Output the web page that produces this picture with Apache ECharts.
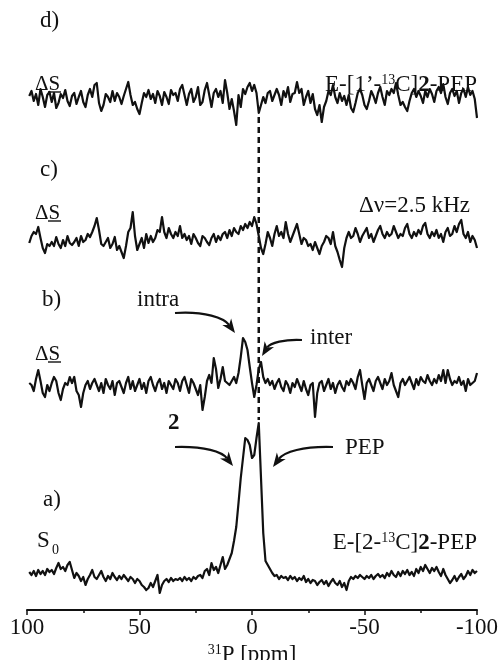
<!DOCTYPE html>
<html>
<head>
<meta charset="utf-8">
<script src="https://cdn.jsdelivr.net/npm/echarts@6/dist/echarts.min.js"></script>
<style>html,body{margin:0;padding:0;background:#fff}#main{width:499px;height:660px}</style>
</head>
<body>
<div id="main"></div>
<script>
// spectra sampled every 1 ppm from 99 down to -100 (intensity, arbitrary units)
var ppmStart = 99, ppmStep = -1;

// d) E-[1'-13C]2-PEP, ΔS
var traceD = [
  3, 8, -2, 5, -6, 10, 2, -8, 4, 7,
  -3, 6, -9, -4, 5, 1, 9, -2, -7, 3,
  6, -5, 2, 8, -3, -8, 4, 10, 2, 14,
  16, -4, -12, -6, 5, 2, -3, 8, -2, 6,
  2, -5, 3, 10, 17, 4, -6, -3, -10, -15,
  -4, 6, 2, 9, 0, 5, -4, 8, 3, -6,
  7, 2, -5, 9, 4, 6, -2, 10, 14, 4,
  -6, 5, 10, -3, 2, 12, -6, -3, 9, 16,
  4, -8, 6, 10, 2, 8, -4, 19, 6, -10,
  0, -12, -26, 4, -8, 10, 5, 12, 16, 8,
  14, 6, -14, -6, 2, -4, 6, 8, -2, 4,
  10, 4, -6, 8, 2, 12, -3, 5, 6, 17,
  6, 10, -6, 2, 8, -4, 5, -10, -16, -6,
  -23, -8, -2, 8, 4, 14, 2, -4, 6, -2,
  3, -6, 4, -9, -13, -4, 6, 10, 4, -6,
  -10, -2, 8, 3, -4, 6, 12, 2, -6, 8,
  4, 10, 6, 16, 4, -6, -3, -8, -12, -2,
  6, 10, 2, 8, 3, -4, 8, 2, 10, 5,
  -3, 8, 12, 6, 15, 2, -5, 6, 10, 3,
  8, -4, 6, 10, 2, 12, 4, 8, 0, -19
];

// c) Δν = 2.5 kHz, ΔS
var traceC = [
  -3, 4, 8, 6, 13, 2, -8, -13, -4, -6,
  -2, -6, 3, -4, -8, 0, -6, 4, -3, -5,
  -2, 2, -6, 4, -2, 0, 6, 3, 8, 14,
  22, 10, -4, -6, -2, 2, -8, -4, 3, -10,
  -6, -12, -18, -6, 8, 12, 28, 4, -10, -4,
  2, -8, 6, -3, 4, -2, 2, 10, 8, 23,
  8, 2, 12, 6, 2, 8, 4, 14, 2, 6,
  0, 4, -4, 6, 2, -3, -6, 4, 2, -2,
  -5, 2, 6, -2, 4, 0, 6, 8, 2, 10,
  4, 12, 8, 6, 14, 10, 16, 12, 18, 14,
  23, 16, 4, -8, -14, -4, 8, 2, -6, 6,
  14, 4, 8, 2, 18, 6, -2, 4, 10, 16,
  6, -4, 2, 0, -6, -4, -10, -2, -8, -14,
  -6, -2, 4, 2, -4, 8, -6, -12, -20, -27,
  -8, 2, 8, 2, 4, 12, 6, -2, 4, 8,
  12, 2, 6, -2, 4, 10, 14, 6, 2, 8,
  4, 6, 14, 8, 2, 6, 4, 12, 16, 6,
  2, 8, 4, 10, 6, 14, 17, 6, 2, 8,
  4, 10, 2, 6, -2, 8, 12, 4, 6, 14,
  8, 16, 20, 6, 2, 8, -2, 4, 0, -8
];

// b) ΔS with intra / inter peaks
var traceB = [
  4, 2, -4, 8, 17, 6, -6, -10, 2, -4,
  4, 10, 6, -6, -13, -2, 4, 2, 10, 4,
  10, -4, -8, -20, -6, 2, 6, -2, 4, 8,
  2, -4, 4, -6, 8, 2, -2, 6, -8, 4,
  6, 0, -6, 4, 10, -2, 6, -4, 2, 8,
  -2, 4, -6, 6, 10, 2, -4, 4, 8, -2,
  4, -6, 6, 2, -2, 8, 4, -4, 6, 10,
  2, -6, 8, 4, -2, -8, 2, -23, -10, 6,
  12, 4, 29, 18, -1, 8, 20, 6, 4, 2,
  6, 10, 4, 14, 30, 49, 45, 37, 20, 4,
  -10, 2, 18, 25, 10, 4, 8, 2, 6, -2,
  4, 8, 0, -4, 6, 2, -6, 4, 0, 8,
  2, -4, 6, -2, -8, 2, 4, -30, -6, 4,
  6, -4, 2, 8, -2, 4, -6, 2, 6, 0,
  -4, 6, 2, 8, 4, -2, 10, 17, 2, -12,
  4, 8, 2, -4, 6, 10, 4, -2, 8, 2,
  6, 14, 2, -4, -10, 4, 8, 2, 6, 10,
  4, -2, 8, 2, 10, 6, 4, 12, 6, 2,
  8, 4, 12, 6, 17, 4, 17, 8, 2, 6,
  4, 10, 2, 6, -4, 8, 2, 4, 6, 14
];

// a) S0, E-[2-13C]2-PEP
var traceA = [
  1, -2, 2, -3, 3, -1, 2, -2, 4, 1,
  3, -1, 5, 10, 4, 6, 2, 8, 11, 3,
  -5, 0, -3, -8, -4, -12, -6, -2, 3, -4,
  -6, -2, 2, -4, -8, -3, -6, 0, -4, -7,
  -3, -6, -2, -5, -8, -4, -6, -10, -6, -8,
  -12, -14, -17, -15, -10, -14, -8, -2, -20, -12,
  -8, -6, -9, -5, -8, -6, -7, -5, -8, -4,
  -7, -5, -8, -4, -6, -3, -2, -5, 2, 4,
  -2, 10, 3, 6, 0, 8, 16, 4, 8, 14,
  20, 32, 46, 70, 95, 115, 135, 133, 128, 115,
  118, 135, 150, 95, 40, 12, 8, 4, 0, -3,
  -2, -6, -3, -5, -4, -7, -3, -6, -4, -8,
  -5, -7, -3, -9, -6, -10, -7, -8, -12, -9,
  -7, -11, -8, -13, -9, -6, -10, -12, -8, -14,
  -10, -17, -8, -4, -6, -3, -5, -2, -4, -6,
  -3, -5, -2, -6, -3, -1, -4, -2, -5, 0,
  -3, 2, -2, -4, 1, -3, 2, -1, 3, -2,
  1, -3, 4, 0, 6, 2, 8, 4, 0, 5,
  2, 6, 1, -3, 4, -2, -6, -10, -7, -3,
  -8, -4, -1, -6, -3, 2, -2, 3, 0, 2
];

var tickValues = [100, 50, 0, -50, -100];
var tickLabels = ['100', '50', '0', '-50', '-100'];
var markerPpm = -3;

var serif = 'Liberation Serif';
var ink = '#111';

function pairs(arr) {
  return arr.map(function (v, i) { return [ppmStart + i * ppmStep, v]; });
}

var myChart = echarts.init(document.getElementById('main'));

var grids = [
  { left: 27, width: 450, top: 39, height: 100 },
  { left: 27, width: 450, top: 180, height: 100 },
  { left: 27, width: 450, top: 327, height: 100 },
  { left: 27, width: 450, top: 410, height: 200 }
].map(function (g) { g.outerBoundsMode = 'none'; g.containLabel = false; return g; });

var xAxes = grids.map(function (g, i) {
  var last = i === 3;
  return {
    type: 'value', gridIndex: i, min: -100, max: 100, interval: 50, inverse: true,
    show: last,
    splitLine: { show: false },
    axisLine: { show: last, onZero: false, lineStyle: { color: ink, width: 2 } },
    axisTick: { show: last, length: 5, lineStyle: { color: ink, width: 1.5 } },
    minorTick: { show: last, splitNumber: 2, length: 3, lineStyle: { color: ink, width: 1.5 } },
    axisLabel: {
      show: last, margin: 6, color: ink, fontFamily: serif, fontSize: 23,
      formatter: function (v) { var k = tickValues.indexOf(v); return k < 0 ? '' : tickLabels[k]; }
    },
    name: last ? '{s|31}{n|P [ppm]}' : '',
    nameLocation: 'middle', nameGap: 33,
    nameTextStyle: {
      rich: {
        n: { fontFamily: serif, fontSize: 23, color: ink, lineHeight: 24 },
        s: { fontFamily: serif, fontSize: 14, color: ink, verticalAlign: 'top', lineHeight: 24 }
      }
    }
  };
});

var yAxes = [
  { min: -40, max: 60 }, { min: -40, max: 60 }, { min: -40, max: 60 }, { min: -37, max: 163 }
].map(function (r, i) {
  return { type: 'value', gridIndex: i, min: r.min, max: r.max, show: false, splitLine: { show: false } };
});

var traces = [traceD, traceC, traceB, traceA];
var series = traces.map(function (t, i) {
  return {
    type: 'line', xAxisIndex: i, yAxisIndex: i, data: pairs(t),
    showSymbol: false, symbol: 'none', smooth: false,
    lineStyle: { color: ink, width: 2.2, join: 'round' }, clip: false
  };
});

function txt(x, y, text, size, align, weight) {
  return {
    type: 'text', silent: true,
    style: {
      x: x, y: y, text: text, fill: ink, fontFamily: serif, fontSize: size || 23,
      fontWeight: weight || 'normal',
      textAlign: align || 'left', align: align || 'left',
      textVerticalAlign: 'middle', verticalAlign: 'middle'
    }
  };
}

function richTxt(x, y, text) {
  return {
    type: 'text', silent: true,
    style: {
      x: x, y: y, text: text, fill: ink,
      textAlign: 'right', align: 'right', textVerticalAlign: 'middle', verticalAlign: 'middle',
      rich: {
        n: { fontFamily: serif, fontSize: 23, fill: ink, lineHeight: 24 },
        b: { fontFamily: serif, fontSize: 23, fontWeight: 'bold', fill: ink, lineHeight: 24 },
        s: { fontFamily: serif, fontSize: 14, fill: ink, verticalAlign: 'top', lineHeight: 24 }
      }
    }
  };
}

function deltaS(x, y) {
  return [
    txt(x, y, 'ΔS', 21),
    { type: 'line', silent: true, shape: { x1: x + 13, y1: y + 8, x2: x + 26, y2: y + 8 },
      style: { stroke: ink, lineWidth: 1.4 } }
  ];
}

function arrow(p0, c1, c2, p1) {
  var dx = p1[0] - c2[0], dy = p1[1] - c2[1];
  var len = Math.sqrt(dx * dx + dy * dy);
  dx /= len; dy /= len;
  var hl = 14, hw = 5.5;
  var bx = p1[0] - dx * hl, by = p1[1] - dy * hl;
  var px = -dy, py = dx;
  return [
    { type: 'bezierCurve', silent: true,
      shape: { x1: p0[0], y1: p0[1], cpx1: c1[0], cpy1: c1[1], cpx2: c2[0], cpy2: c2[1], x2: bx + dx * 4, y2: by + dy * 4 },
      style: { stroke: ink, lineWidth: 2.2, fill: null } },
    { type: 'polygon', silent: true,
      shape: { points: [p1, [bx + px * hw, by + py * hw], [bx + dx * 4, by + dy * 4], [bx - px * hw, by - py * hw]] },
      style: { fill: ink } }
  ];
}

var option = {
  animation: false,
  backgroundColor: '#fff',
  grid: grids,
  xAxis: xAxes,
  yAxis: yAxes,
  series: series
};
myChart.setOption(option);

var xm = myChart.convertToPixel({ xAxisIndex: 3 }, markerPpm);

var graphics = [].concat(
  [{ type: 'line', silent: true, shape: { x1: xm, y1: 117, x2: xm, y2: 420 },
     style: { stroke: ink, lineWidth: 2.5, lineDash: [6, 4] } }],
  [txt(40, 21, 'd)')],
  deltaS(35, 84),
  [richTxt(477, 85, '{n|E-[1’-}{s|13}{n|C]}{b|2}{n|-PEP}')],
  [txt(40, 170, 'c)')],
  deltaS(35, 213),
  [txt(470, 206, 'Δν=2.5 kHz', 23, 'right')],
  [txt(42, 300, 'b)'), txt(137, 300, 'intra'), txt(310, 338, 'inter')],
  deltaS(35, 354),
  arrow([175, 313], [205, 311], [224, 318], [235, 333]),
  arrow([302, 340], [285, 339], [270, 343], [262, 356]),
  [txt(168, 423, '2', 23, 'left', 'bold'), txt(345, 448, 'PEP')],
  arrow([175, 447], [205, 446], [222, 452], [233, 466]),
  arrow([333, 447], [303, 446], [284, 452], [273, 467]),
  [txt(43, 500, 'a)'), txt(37, 541, 'S'), txt(52, 550, '0', 14)],
  [richTxt(477, 543, '{n|E-[2-}{s|13}{n|C]}{b|2}{n|-PEP}')]
);

myChart.setOption({ graphic: graphics });
</script>
</body>
</html>
